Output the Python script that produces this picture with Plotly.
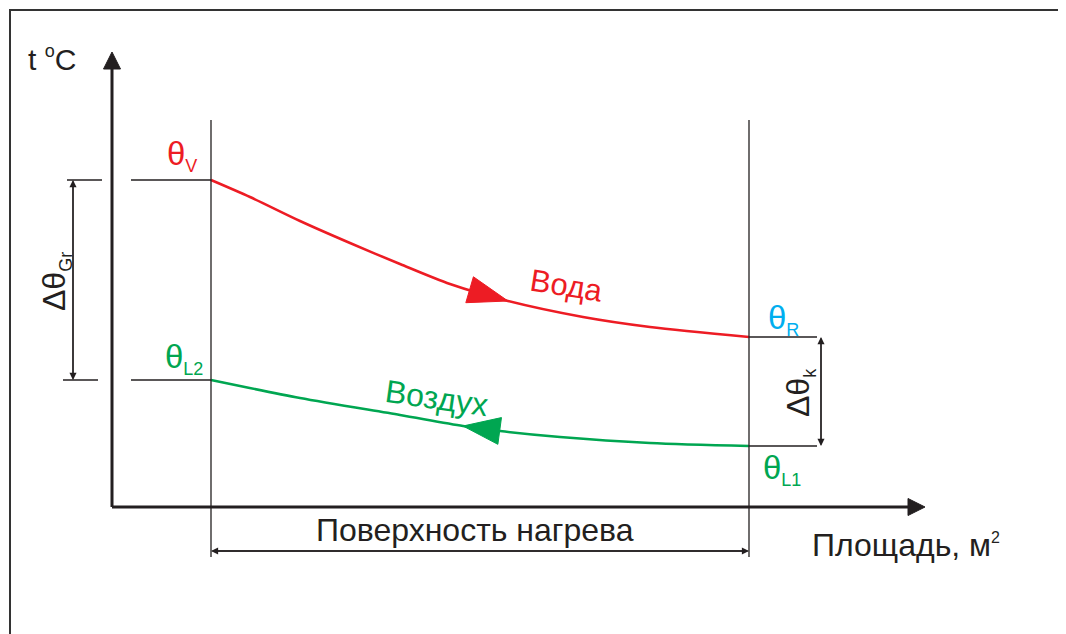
import numpy as np
import plotly.graph_objects as go

# schematic coordinates: area A (to the right of the t axis), temperature t (above the A axis)
water_A = [99, 138, 188, 238, 288, 338, 396, 471, 538, 637]
water_t = [327, 310, 286, 264, 243, 223, 206, 190, 180, 170]
air_A = [99, 188, 288, 351, 388, 448, 538, 637]
air_t = [127, 109, 92, 81, 76, 70, 64, 61]

surface_start = 99
surface_end = 637
axis_t_top = 455
axis_A_end = 813

INK = "#231f20"
RED = "#ed1c24"
GREEN = "#00a651"
CYAN = "#00aeef"
FONT = "Liberation Sans, Arial, sans-serif"


def head(tip, back, length, width):
    tip = np.array(tip, float)
    d = tip - np.array(back, float)
    d /= np.hypot(*d)
    base = tip - length * d
    n = np.array([-d[1], d[0]])
    p1 = base + n * width / 2
    p2 = base - n * width / 2
    return [p1[0], tip[0], p2[0], p1[0]], [p1[1], tip[1], p2[1], p1[1]]


fig = go.Figure()

# curves
fig.add_trace(go.Scatter(x=water_A, y=water_t, mode="lines",
                         line=dict(color=RED, width=2.5, shape="spline", smoothing=0.8)))
fig.add_trace(go.Scatter(x=air_A, y=air_t, mode="lines",
                         line=dict(color=GREEN, width=2.5, shape="spline", smoothing=0.8)))

# flow direction arrows on the curves
hx, hy = head((water_A[6], water_t[6]), (water_A[5], water_t[5]), 40, 27)
fig.add_trace(go.Scatter(x=hx, y=hy, mode="lines", fill="toself", fillcolor=RED,
                         line=dict(color=RED, width=1)))
hx, hy = head((air_A[3], air_t[3]), (air_A[4], air_t[4]), 37, 27)
fig.add_trace(go.Scatter(x=hx, y=hy, mode="lines", fill="toself", fillcolor=GREEN,
                         line=dict(color=GREEN, width=1)))

# main axes with arrowheads
fig.add_trace(go.Scatter(x=[0, 0], y=[0, axis_t_top - 12], mode="lines",
                         line=dict(color=INK, width=3)))
fig.add_trace(go.Scatter(x=[0, axis_A_end - 12], y=[0, 0], mode="lines",
                         line=dict(color=INK, width=3)))
hx, hy = head((0, axis_t_top), (0, 0), 17, 17)
fig.add_trace(go.Scatter(x=hx, y=hy, mode="lines", fill="toself", fillcolor=INK,
                         line=dict(color=INK, width=1)))
hx, hy = head((axis_A_end, 0), (0, 0), 17, 17)
fig.add_trace(go.Scatter(x=hx, y=hy, mode="lines", fill="toself", fillcolor=INK,
                         line=dict(color=INK, width=1)))

shapes = []


def seg(x0, y0, x1, y1, w=1.3, c=INK):
    shapes.append(dict(type="line", xref="x", yref="y", x0=x0, y0=y0, x1=x1, y1=y1,
                       line=dict(color=c, width=w)))


# frame (cropped at right and bottom)
shapes.append(dict(type="rect", xref="x", yref="y", x0=-102, y0=-300, x1=1100, y1=497,
                   line=dict(color="#333333", width=2)))

# heating surface boundaries
seg(surface_start, 387, surface_start, -50)
seg(surface_end, 387, surface_end, -50)

# level lines
seg(-45, water_t[0], -10, water_t[0])
seg(19, water_t[0], surface_start, water_t[0])
seg(-49, air_t[0], -14, air_t[0])
seg(19, air_t[0], surface_start, air_t[0])
seg(surface_end, water_t[-1], 705, water_t[-1])
seg(surface_end, air_t[-1], 705, air_t[-1])

annotations = []


def dim(x0, y0, x1, y1):
    for (hx_, hy_, tx, ty) in [(x1, y1, x0, y0), (x0, y0, x1, y1)]:
        annotations.append(dict(x=hx_, y=hy_, ax=tx, ay=ty, xref="x", yref="y",
                                axref="x", ayref="y", text="", showarrow=True,
                                arrowhead=2, arrowsize=1.1, arrowwidth=1.3,
                                arrowcolor=INK))


dim(-39, water_t[0], -39, air_t[0])
dim(709, water_t[-1], 709, air_t[-1])
dim(surface_start, -44, surface_end, -44)


def label(x, y, text, color=INK, size=32, angle=0, xanchor="center"):
    annotations.append(dict(x=x, y=y, xref="x", yref="y", text=text, showarrow=False,
                            textangle=angle, xanchor=xanchor, yanchor="middle",
                            font=dict(family=FONT, size=size, color=color)))


def sub(s, px=18):
    return f"<sub><span style='font-size:{px}px'>{s}</span></sub>"


label(-86, 449, "t <sup><span style='font-size:18px'>o</span></sup>C", size=30, xanchor="left")
label(70, 352, "θ" + sub("V", 18), RED, 33)
label(72, 149, "θ" + sub("L2"), GREEN, 33)
label(671, 188, "θ" + sub("R"), CYAN, 33)
label(670, 38, "θ" + sub("L1"), GREEN, 33)
label(454, 222, "Вода", RED, 31, angle=9)
label(324, 109, "Воздух", GREEN, 32, angle=8)
label(-56, 225, "Δθ" + sub("Gr", 18), INK, 32, angle=-90)
label(688, 114, "Δθ" + sub("k", 18), INK, 32, angle=-90)
label(363, -23, "Поверхность нагрева", INK, 32)
label(698, -38, "Площадь, м<sup><span style='font-size:16px'>2</span></sup>", INK, 32, xanchor="left")

# the page body sits 8 px in from the window corner, so the figure is made
# 8 px smaller and the ranges are set so the axes land where the reference has them
fig.update_layout(
    width=1058, height=626,
    margin=dict(l=0, r=0, t=0, b=0),
    paper_bgcolor="white", plot_bgcolor="white",
    showlegend=False,
    shapes=shapes, annotations=annotations,
    xaxis=dict(range=[-104, 954], visible=False, fixedrange=True),
    yaxis=dict(range=[-127, 499], visible=False, fixedrange=True),
)

fig.write_html("out.html")
